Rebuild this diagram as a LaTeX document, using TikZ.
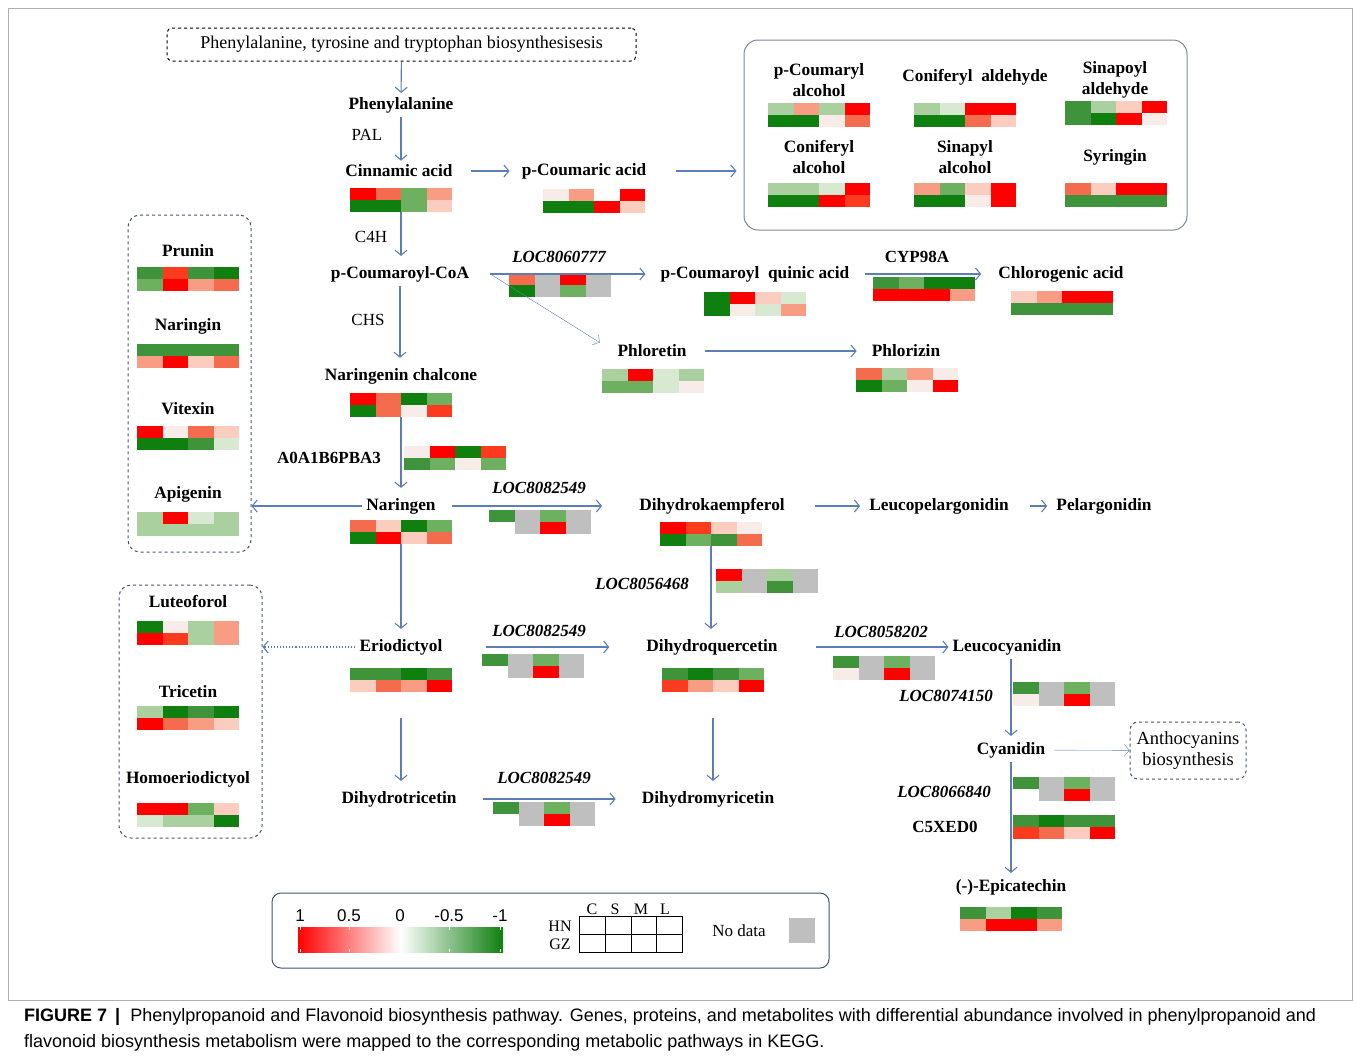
\documentclass[tikz,border=0pt]{standalone}
\usepackage{fontspec}
\setmainfont{Liberation Serif}
\newfontfamily\capfont{Liberation Sans}
\usetikzlibrary{arrows.meta,positioning}
\definecolor{hred}{HTML}{FF0000}
\definecolor{hred2}{HTML}{FB3A1E}
\definecolor{horg}{HTML}{F56B4E}
\definecolor{hsal}{HTML}{F89C84}
\definecolor{hpink}{HTML}{FBCDBE}
\definecolor{hpale}{HTML}{F8ECE8}
\definecolor{hgpale}{HTML}{D8E9D2}
\definecolor{hglt}{HTML}{A9D09E}
\definecolor{hgmid}{HTML}{6CB060}
\definecolor{hgrn}{HTML}{3F933A}
\definecolor{hgdk}{HTML}{0F7F0F}
\definecolor{hna}{HTML}{BFBFBF}
\definecolor{hbl}{HTML}{FFFFFF}
\definecolor{linkblue}{HTML}{5B7FB5}
\definecolor{boxline}{HTML}{44546A}
\definecolor{framegray}{HTML}{B0B0B0}

% heat map: name, x, y (top left), upper row, lower row
\newcommand{\heatmap}[5]{%
  \node[hmbox, anchor=north west] (#1) at (#2,#3) {};
  \foreach \c [count=\i from 0] in {#4} \fill[\c] ({#2+\i*25.5},{#3}) rectangle ++(25.5,12);
  \foreach \c [count=\i from 0] in {#5} \fill[\c] ({#2+\i*25.5},{#3+12}) rectangle ++(25.5,12);
}

\begin{document}
\begin{tikzpicture}[x=1pt, y=-1pt,
  lbl/.style={font=\bfseries\fontsize{17.3}{21}\selectfont, inner sep=4pt},
  gene/.style={font=\bfseries\itshape\fontsize{17}{20}\selectfont, inner sep=2pt},
  prot/.style={font=\bfseries\fontsize{17}{20}\selectfont, inner sep=2pt},
  enz/.style={font=\fontsize{17}{20}\selectfont, inner sep=2pt},
  hmbox/.style={minimum width=102pt, minimum height=24pt, inner sep=0pt, outer sep=0pt},
  link/.style={draw=linkblue, line width=1.1pt, -{Straight Barb[length=5pt,width=12pt]}},
  dotlink/.style={link, dotted},
  grpbox/.style={draw=boxline, dashed, rounded corners=12pt, line width=1pt, inner sep=0pt},
  setbox/.style={draw=boxline!70, rounded corners=14pt, line width=1pt, inner sep=0pt},
]
\useasboundingbox (0,0) rectangle (1356,1058);
\draw[framegray, line width=0.8pt] (8,8) rectangle (1352,1000);

% group boxes
\node[grpbox, draw=black, rounded corners=5pt, minimum width=469pt, minimum height=33pt,
  font=\fontsize{18}{20}\selectfont] (top) at (401.5,44.5)
  {Phenylalanine, tyrosine and tryptophan biosynthesisesis};
\node[setbox, minimum width=443pt, minimum height=190pt] (rbox) at (965.5,135) {};
\node[grpbox, minimum width=123pt, minimum height=337pt] (boxa) at (189.5,383.5) {};
\node[grpbox, minimum width=143pt, minimum height=253pt] (boxb) at (190.5,711.5) {};
\node[grpbox, rounded corners=8pt, minimum width=116pt, minimum height=57pt, align=center,
  font=\fontsize{18.5}{21}\selectfont] (antho) at (1188,750.5) {Anthocyanins\\biosynthesis};

% main pathway
\node[lbl] (phe)  at (401,105) {Phenylalanine};
\node[lbl] (cin)  at (399,171) {Cinnamic acid};
\node[lbl] (pca)  at (584,171) {p-Coumaric acid};
\node[lbl] (coa)  at (400,274) {p-Coumaroyl-CoA};
\node[lbl] (chal) at (401,376) {Naringenin chalcone};
\node[lbl] (nar)  at (401,506) {Naringen};
\node[lbl] (quin) at (755,274) {p-Coumaroyl\ \ quinic acid};
\node[lbl] (chl)  at (1061,274) {Chlorogenic acid};
\node[lbl] (phlo) at (652,351) {Phloretin};
\node[lbl] (phlr) at (906,351) {Phlorizin};
\node[lbl] (dhk)  at (712,506) {Dihydrokaempferol};
\node[lbl] (lpel) at (939,506) {Leucopelargonidin};
\node[lbl] (pel)  at (1104,506) {Pelargonidin};
\node[lbl] (eri)  at (401,647) {Eriodictyol};
\node[lbl] (dhq)  at (712,647) {Dihydroquercetin};
\node[lbl] (lcy)  at (1007,647) {Leucocyanidin};
\node[lbl] (cya)  at (1011,750) {Cyanidin};
\node[lbl] (epi)  at (1011,887) {(-)-Epicatechin};
\node[lbl] (dht)  at (399,799) {Dihydrotricetin};
\node[lbl] (dhm)  at (708,799) {Dihydromyricetin};

% metabolites in the boxes
\node[lbl, align=center] (pcal) at (819,80) {p-Coumaryl\\alcohol};
\node[lbl] (cald) at (975,77) {Coniferyl\ \ aldehyde};
\node[lbl, align=center] (sald) at (1115,80) {Sinapoyl\\aldehyde};
\node[lbl, align=center] (calc) at (819,157) {Coniferyl\\alcohol};
\node[lbl, align=center] (salc) at (965,157) {Sinapyl\\alcohol};
\node[lbl] (syr)  at (1115,157) {Syringin};
\node[lbl] (pru)  at (188,251) {Prunin};
\node[lbl] (nrg)  at (188,326) {Naringin};
\node[lbl] (vit)  at (188,409) {Vitexin};
\node[lbl] (api)  at (188,494) {Apigenin};
\node[lbl] (lut)  at (188,602) {Luteoforol};
\node[lbl] (tri)  at (188,692) {Tricetin};
\node[lbl] (hom)  at (188,779) {Homoeriodictyol};

% enzymes and genes
\node[enz] (pal) at (367,135) {PAL};
\node[enz] (c4h) at (371,237) {C4H};
\node[enz] (chs) at (368,320) {CHS};
\node[gene] (g1) at (559,257) {LOC8060777};
\node[prot] (cyp) at (917,257) {CYP98A};
\node[prot] (a0a) at (329,458) {A0A1B6PBA3};
\node[gene] (g2) at (539,488) {LOC8082549};
\node[gene] (g3) at (642,584) {LOC8056468};
\node[gene] (g4) at (539,631) {LOC8082549};
\node[gene] (g5) at (881,632) {LOC8058202};
\node[gene] (g6) at (946,696) {LOC8074150};
\node[gene] (g7) at (544,778) {LOC8082549};
\node[gene] (g8) at (944,792) {LOC8066840};
\node[prot] (c5x) at (945,827) {C5XED0};

% heat maps
\heatmap{cinhm}{350}{188}{hred,horg,hgmid,hsal}{hgdk,hgdk,hgmid,hpink}
\heatmap{pcahm}{543}{189}{hpale,hsal,hbl,hred}{hgdk,hgdk,hred,hpink}
\heatmap{pcalhm}{768}{103}{hglt,hsal,hglt,hred}{hgdk,hgdk,hpale,horg}
\heatmap{caldhm}{914}{103}{hglt,hgpale,hred,hred}{hgdk,hgdk,horg,hpink}
\heatmap{saldhm}{1065}{101}{hgrn,hglt,hpink,hred}{hgrn,hgdk,hred,hpale}
\heatmap{calchm}{768}{183}{hglt,hglt,hgpale,hred}{hgdk,hgdk,hred,hred2}
\heatmap{salchm}{914}{183}{hsal,hgmid,hpink,hred}{hgdk,hgdk,hpale,hred}
\heatmap{syrhm}{1065}{183}{horg,hpink,hred,hred}{hgrn,hgrn,hgrn,hgrn}
\heatmap{pruhm}{137}{267}{hgrn,hred2,hgrn,hgdk}{hgmid,hred,hsal,horg}
\heatmap{nrghm}{137}{344}{hgrn,hgrn,hgrn,hgrn}{hsal,hred,hpink,horg}
\heatmap{vithm}{137}{426}{hred,hpale,horg,hpink}{hgdk,hgdk,hgrn,hgpale}
\heatmap{apihm}{137}{512}{hglt,hred,hgpale,hglt}{hglt,hglt,hglt,hglt}
\heatmap{g1hm}{509}{273}{horg,hna,hred,hna}{hgdk,hna,hgmid,hna}
\heatmap{quinhm}{704}{292}{hgdk,hred,hpink,hgpale}{hgdk,hpale,hgpale,hsal}
\heatmap{cyphm}{873}{277}{hgrn,hgmid,hgdk,hgdk}{hred,hred,hred,hsal}
\heatmap{chlhm}{1011}{291}{hpink,hsal,hred,hred}{hgrn,hgrn,hgrn,hgrn}
\heatmap{phlohm}{602}{369}{hglt,hred,hgpale,hglt}{hgmid,hgmid,hgpale,hpale}
\heatmap{phlrhm}{856}{368}{horg,hglt,hsal,hpale}{hgdk,hgmid,hpale,hred}
\heatmap{chalhm}{350}{393}{hred,horg,hgdk,hgmid}{hgdk,horg,hpale,hred2}
\heatmap{a0ahm}{404}{446}{hpale,hred,hgdk,hred2}{hgrn,hgmid,hpale,hgmid}
\heatmap{narhm}{350}{520}{horg,hpink,hgdk,hgmid}{hgdk,hred,hpink,horg}
\heatmap{g2hm}{489}{510}{hgrn,hna,hgmid,hna}{hbl,hna,hred,hna}
\heatmap{dhkhm}{660}{522}{hred,hred2,hpink,hpale}{hgdk,hgmid,hgrn,horg}
\heatmap{g3hm}{716}{569}{hred,hna,hglt,hna}{hglt,hna,hgrn,hna}
\heatmap{luthm}{137}{621}{hgdk,hpale,hglt,hsal}{hred,hred2,hglt,hsal}
\heatmap{trihm}{137}{706}{hglt,hgdk,hgrn,hgdk}{hred,horg,hsal,hpink}
\heatmap{homhm}{137}{803}{hred,hred,hgmid,hpink}{hgpale,hglt,hglt,hgdk}
\heatmap{erihm}{350}{668}{hgrn,hgrn,hgdk,hgrn}{hpink,horg,hsal,hred}
\heatmap{g4hm}{482}{654}{hgrn,hna,hgmid,hna}{hbl,hna,hred,hna}
\heatmap{dhqhm}{662}{668}{hgrn,hgdk,hgrn,hgmid}{hred2,hsal,hpink,hred}
\heatmap{g5hm}{833}{656}{hgrn,hna,hgmid,hna}{hpale,hna,hred,hna}
\heatmap{g6hm}{1013}{682}{hgrn,hna,hgmid,hna}{hpale,hna,hred,hna}
\heatmap{g7hm}{493}{802}{hgrn,hna,hgmid,hna}{hbl,hna,hred,hna}
\heatmap{g8hm}{1013}{777}{hgrn,hna,hgmid,hna}{hbl,hna,hred,hna}
\heatmap{c5xhm}{1013}{815}{hgrn,hgdk,hgrn,hgrn}{hred2,horg,hpink,hred}
\heatmap{epihm}{960}{907}{hgrn,hglt,hgdk,hgrn}{hsal,hred,hred,hsal}

% connectors
\draw[link] (top) -- (phe);
\draw[link] (phe) -- (phe |- cin.north);
\draw[link, shorten <=14pt, shorten >=8pt] (cin) -- (pca);
\draw[link, shorten <=26pt, shorten >=7pt] (pca.east) -- (pca.east -| rbox.west);
\draw[link, shorten >=6pt] (cinhm.south) -- (cinhm.south |- coa.north);
\draw[link, shorten >=6pt] (coa) -- (coa |- chal.north);
\draw[link, shorten >=6pt] (chalhm.south) -- (nar);
\draw[link, shorten <=17pt, shorten >=11pt] (coa) -- (quin);
\draw[link, shorten <=12pt, shorten >=13pt] (quin) -- (chl);
\draw[link, thin, shorten >=16pt] ([xshift=17pt]coa.east) -- (phlo.west);
\draw[link, shorten <=14pt, shorten >=11pt] (phlo) -- (phlr);
\draw[link] (nar.west) -- (nar.west -| boxa.east);
\draw[link, shorten <=12pt, shorten >=33pt] (nar) -- (dhk);
\draw[link, shorten <=26pt, shorten >=5pt] (dhk) -- (lpel);
\draw[link, shorten <=17pt, shorten >=5pt] (lpel) -- (pel);
\draw[link, shorten >=6pt] (narhm.south) -- (eri);
\draw[link, shorten >=6pt] (dhkhm.south) -- (dhkhm.south |- dhq.north);
\draw[dotlink] (eri.west) -- (eri.west -| boxb.east);
\draw[link, shorten <=39pt, shorten >=33pt] (eri) -- (dhq);
\draw[link, shorten <=34pt] (dhq) -- (lcy);
\draw[link, shorten >=2pt] (lcy.south -| cya.north) -- (cya.north);
\draw[link, thin, shorten <=5pt] (cya) -- (antho);
\draw[link, shorten >=2pt] (cya) -- (epi);
\draw[link, shorten <=26pt, shorten >=6pt] (erihm.south) -- (erihm.south |- dht.north);
\draw[link, shorten <=22pt, shorten >=22pt] (dht) -- (dhm);
\draw[link, shorten <=26pt, shorten >=6pt] (dhqhm.south) -- (dhqhm.south |- dhm.north);

% legend
\node[draw=boxline, rounded corners=9pt, line width=1pt, minimum width=557pt,
  minimum height=75pt] (legend) at (550.5,930.5) {};
\shade[left color=hred, right color=hgdk, middle color=white] (298,927) rectangle (503,952);
\foreach \t/\x in {1/300,0.5/349,0/400,-0.5/449,-1/500} {
  \node[font=\capfont\fontsize{17}{20}\selectfont] (v\x) at (\x,916) {\t};
  \draw[white, line width=1pt] (\x,927) -- ++(0,3) (\x,952) -- ++(0,-3);
}
\node[minimum width=102pt, minimum height=35pt, inner sep=0pt] (grid) at (631,934.5) {};
\draw[line width=0.8pt] (grid.north west) rectangle (grid.south east);
\foreach \x in {605.5,631,656.5} \draw[line width=0.8pt] (\x,917) -- (\x,952);
\draw[line width=0.8pt] (grid.west) -- (grid.east);
\foreach \t/\x in {C/592,S/615,M/641,L/665}
  \node[font=\fontsize{16}{18}\selectfont, inner sep=0pt] at (\x,909) {\t};
\node[font=\fontsize{16}{18}\selectfont, inner sep=0pt] (hn) at (560,926) {HN};
\node[font=\fontsize{16}{18}\selectfont, inner sep=0pt] (gz) at (560,944) {GZ};
\node[font=\fontsize{17}{20}\selectfont] (nd) at (739,931) {No data};
\fill[hna] (789,918) rectangle (815,943);

% caption
\node[anchor=west, inner sep=0pt, font=\capfont\fontsize{18}{20}\selectfont] (cap1) at (24,1017)
  {\textbf{FIGURE 7 \,|}\ \ Phenylpropanoid and Flavonoid biosynthesis pathway. Genes, proteins, and metabolites with differential abundance involved in phenylpropanoid and};
\node[anchor=west, inner sep=0pt, font=\capfont\fontsize{18}{20}\selectfont] (cap2) at (24,1043)
  {flavonoid biosynthesis metabolism were mapped to the corresponding metabolic pathways in KEGG.};
\end{tikzpicture}
\end{document}
